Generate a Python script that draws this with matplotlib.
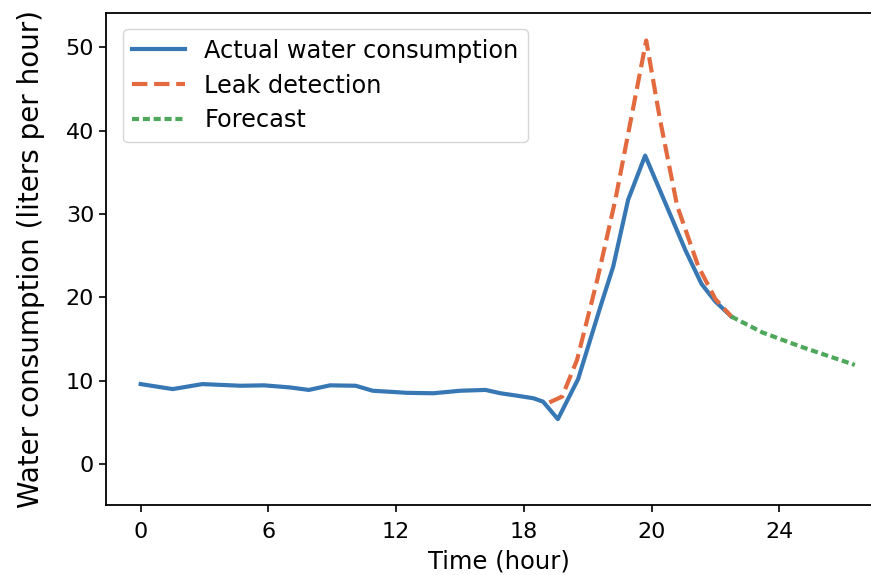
import numpy as np
import matplotlib
matplotlib.use('Agg')
import matplotlib.pyplot as plt

# actual consumption
actual_x = [0.0, 1.5, 2.9, 4.7, 5.8, 7.0, 7.9, 8.9, 10.1, 10.9, 11.9, 12.5, 13.75,
            15.0, 16.2, 16.9, 17.7, 18.45, 18.9, 19.6, 20.55, 21.6, 22.2, 22.9,
            23.7, 24.6, 25.6, 26.35, 27.0, 27.75]
actual_y = [9.6, 9.0, 9.6, 9.4, 9.45, 9.2, 8.9, 9.45, 9.4, 8.8, 8.65, 8.55, 8.5,
            8.8, 8.9, 8.5, 8.2, 7.9, 7.5, 5.4, 10.2, 18.9, 23.7, 31.7,
            37.0, 31.6, 25.6, 21.6, 19.5, 17.7]

# leak detection curve
leak_x = [19.2, 19.8, 20.5, 21.45, 22.3, 23.75, 24.4, 25.2, 26.2, 27.0, 27.75]
leak_y = [7.4, 8.1, 12.5, 22.1, 31.7, 50.8, 41.3, 31.0, 23.7, 19.8, 17.7]

# forecast after the last measurement
forecast_x = [27.75, 29.2, 31.0, 32.5, 33.55]
forecast_y = [17.7, 15.8, 14.1, 12.8, 11.9]

tick_pos = [0, 6, 12, 18, 24, 30]
tick_labels = ['0', '6', '12', '18', '20', '24']

W, H = 871, 575
fig = plt.figure(figsize=(W / 100, H / 100), dpi=100)
# axes run past the right edge of the picture (reference is cropped)
ax = fig.add_axes([106 / W, 1 - 505 / H, 785 / W, 492 / H])

ax.plot(actual_x, actual_y, color='#3778b4', lw=3.0, label='Actual water consumption')
ax.plot(leak_x, leak_y, color='#e3693f', lw=3.0, ls='--', label='Leak detection')
ax.plot(forecast_x, forecast_y, color='#4ea75a', lw=3.0, ls=(0, (1.7, 0.9)),
        label='Forecast')

ax.set_xlim(-1.63, 35.25)
ax.set_ylim(-4.9, 54.1)
ax.set_xticks(tick_pos)
ax.set_xticklabels(tick_labels)
ax.set_yticks([0, 10, 20, 30, 40, 50])
ax.tick_params(labelsize=16, length=5, width=1.2)
ax.tick_params(axis='x', pad=7)
for sp in ax.spines.values():
    sp.set_linewidth(1.3)

ax.set_xlabel('Time (hour)', fontsize=17.5, labelpad=6)
ax.set_ylabel('Water consumption (liters per hour)', fontsize=20, labelpad=15)

ax.legend(loc='upper left', bbox_to_anchor=(0.0213, 0.967), borderaxespad=0,
          fontsize=17.3, labelspacing=0.45, handlelength=2.2, handletextpad=0.8)

fig.savefig('out.png', dpi=100)
